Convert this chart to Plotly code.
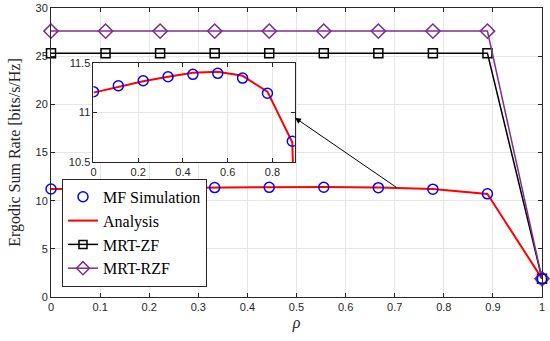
import plotly.graph_objects as go

rho = [0, 1/9, 2/9, 3/9, 4/9, 5/9, 6/9, 7/9, 8/9, 1]
mf_sim = [11.21, 11.27, 11.32, 11.36, 11.385, 11.395, 11.347, 11.194, 10.71, 1.9]
analysis = [11.20, 11.26, 11.315, 11.36, 11.40, 11.41, 11.37, 11.21, 10.70, 1.9]
mrt_zf = [25.3, 25.3, 25.3, 25.3, 25.3, 25.3, 25.3, 25.3, 25.3, 1.9]
mrt_rzf = [27.6, 27.6, 27.6, 27.6, 27.6, 27.6, 27.6, 27.6, 27.6, 1.9]

x_ticks = [0, 0.1, 0.2, 0.3, 0.4, 0.5, 0.6, 0.7, 0.8, 0.9, 1]
y_ticks = [0, 5, 10, 15, 20, 25, 30]
inset_x_ticks = [0, 0.2, 0.4, 0.6, 0.8]
inset_y_ticks = [10.5, 11, 11.5]

BLUE = "#0000FF"
RED = "#FF0000"
PURPLE = "#7E2F8E"
SERIF = "Liberation Serif, Times New Roman, serif"
SANS = "Liberation Sans, Arial, sans-serif"

fig = go.Figure()

# main traces
fig.add_trace(go.Scatter(x=rho, y=analysis, mode="lines", name="Analysis", cliponaxis=False,
                         line=dict(color=RED, width=2), showlegend=False))
fig.add_trace(go.Scatter(x=rho, y=mrt_zf, mode="lines+markers", name="MRT-ZF", cliponaxis=False,
                         line=dict(color="black", width=1.5),
                         marker=dict(symbol="square-open", size=9, color="black",
                                     line=dict(width=1.5)), showlegend=False))
fig.add_trace(go.Scatter(x=rho, y=mrt_rzf, mode="lines+markers", name="MRT-RZF", cliponaxis=False,
                         line=dict(color=PURPLE, width=1.5),
                         marker=dict(symbol="diamond-open", size=11, color=PURPLE,
                                     line=dict(width=1.5)), showlegend=False))
fig.add_trace(go.Scatter(x=rho, y=mf_sim, mode="markers", name="MF Simulation", cliponaxis=False,
                         marker=dict(symbol="circle-open", size=10, color=BLUE,
                                     line=dict(width=1.5)), showlegend=False))

# legend-only traces in order
fig.add_trace(go.Scatter(x=[None], y=[None], mode="markers", name="MF Simulation",
                         marker=dict(symbol="circle-open", size=10, color=BLUE,
                                     line=dict(width=1.5))))
fig.add_trace(go.Scatter(x=[None], y=[None], mode="lines", name="Analysis",
                         line=dict(color=RED, width=2)))
fig.add_trace(go.Scatter(x=[None], y=[None], mode="lines+markers", name="MRT-ZF",
                         line=dict(color="black", width=1.5),
                         marker=dict(symbol="square-open", size=8, color="black",
                                     line=dict(width=1.5))))
fig.add_trace(go.Scatter(x=[None], y=[None], mode="lines+markers", name="MRT-RZF",
                         line=dict(color=PURPLE, width=1.5),
                         marker=dict(symbol="diamond-open", size=10, color=PURPLE,
                                     line=dict(width=1.5))))

# inset traces
fig.add_trace(go.Scatter(x=rho, y=analysis, mode="lines", xaxis="x2", yaxis="y2",
                         line=dict(color=RED, width=2), showlegend=False))
fig.add_trace(go.Scatter(x=rho[:9], y=mf_sim[:9], mode="markers", xaxis="x2", yaxis="y2",
                         marker=dict(symbol="circle-open", size=10, color=BLUE,
                                     line=dict(width=1.5)), showlegend=False))

axis_common = dict(showline=True, linecolor="#262626", linewidth=1, mirror="ticks",
                   ticks="inside", ticklen=4, tickcolor="#262626", automargin=False,
                   showgrid=True, gridcolor="#E6E6E6", gridwidth=1, zeroline=False,
                   tickfont=dict(family=SANS, size=11, color="#262626"))

fig.update_layout(
    width=550, height=341,
    margin=dict(l=51, r=8, t=8, b=44),
    plot_bgcolor="white", paper_bgcolor="white",
    xaxis=dict(range=[0, 1], tickvals=x_ticks, ticktext=[f"{v:g}" for v in x_ticks],
               title=dict(text="<i>ρ</i>", font=dict(family=SERIF, size=16, color="#262626"),
                          standoff=4),
               **axis_common),
    yaxis=dict(range=[0, 30], tickvals=y_ticks,
               title=dict(text="Ergodic Sum Rate [bits/s/Hz]",
                          font=dict(family=SERIF, size=16, color="#262626"), standoff=10),
               **axis_common),
    xaxis2=dict(domain=[0.0865, 0.4965], anchor="y2", range=[0, 0.9],
                tickvals=inset_x_ticks, ticktext=[f"{v:g}" for v in inset_x_ticks],
                **axis_common),
    yaxis2=dict(domain=[0.467, 0.81], anchor="x2", range=[10.5, 11.5],
                tickvals=inset_y_ticks, ticktext=[f"{v:g}" for v in inset_y_ticks],
                **axis_common),
    legend=dict(x=0.0224, y=0.035, xanchor="left", yanchor="bottom",
                bgcolor="white", bordercolor="#262626", borderwidth=1,
                font=dict(family=SERIF, size=16, color="black"),
                tracegroupgap=0, itemwidth=30),
    shapes=[dict(type="rect", xref="paper", yref="paper", x0=0.0865, x1=0.4965,
                 y0=0.467, y1=0.81, fillcolor="white", line=dict(width=0), layer="below")],
    annotations=[dict(x=0.497, y=18.6, ax=0.706, ay=11.29, xref="x", yref="y",
                      axref="x", ayref="y", showarrow=True, arrowhead=2, arrowsize=1.2,
                      arrowwidth=1, arrowcolor="black", text="")],
)

fig.write_html("out.html", config={"displayModeBar": False},
               post_script="document.body.style.margin='0';document.body.style.overflow='hidden';")
